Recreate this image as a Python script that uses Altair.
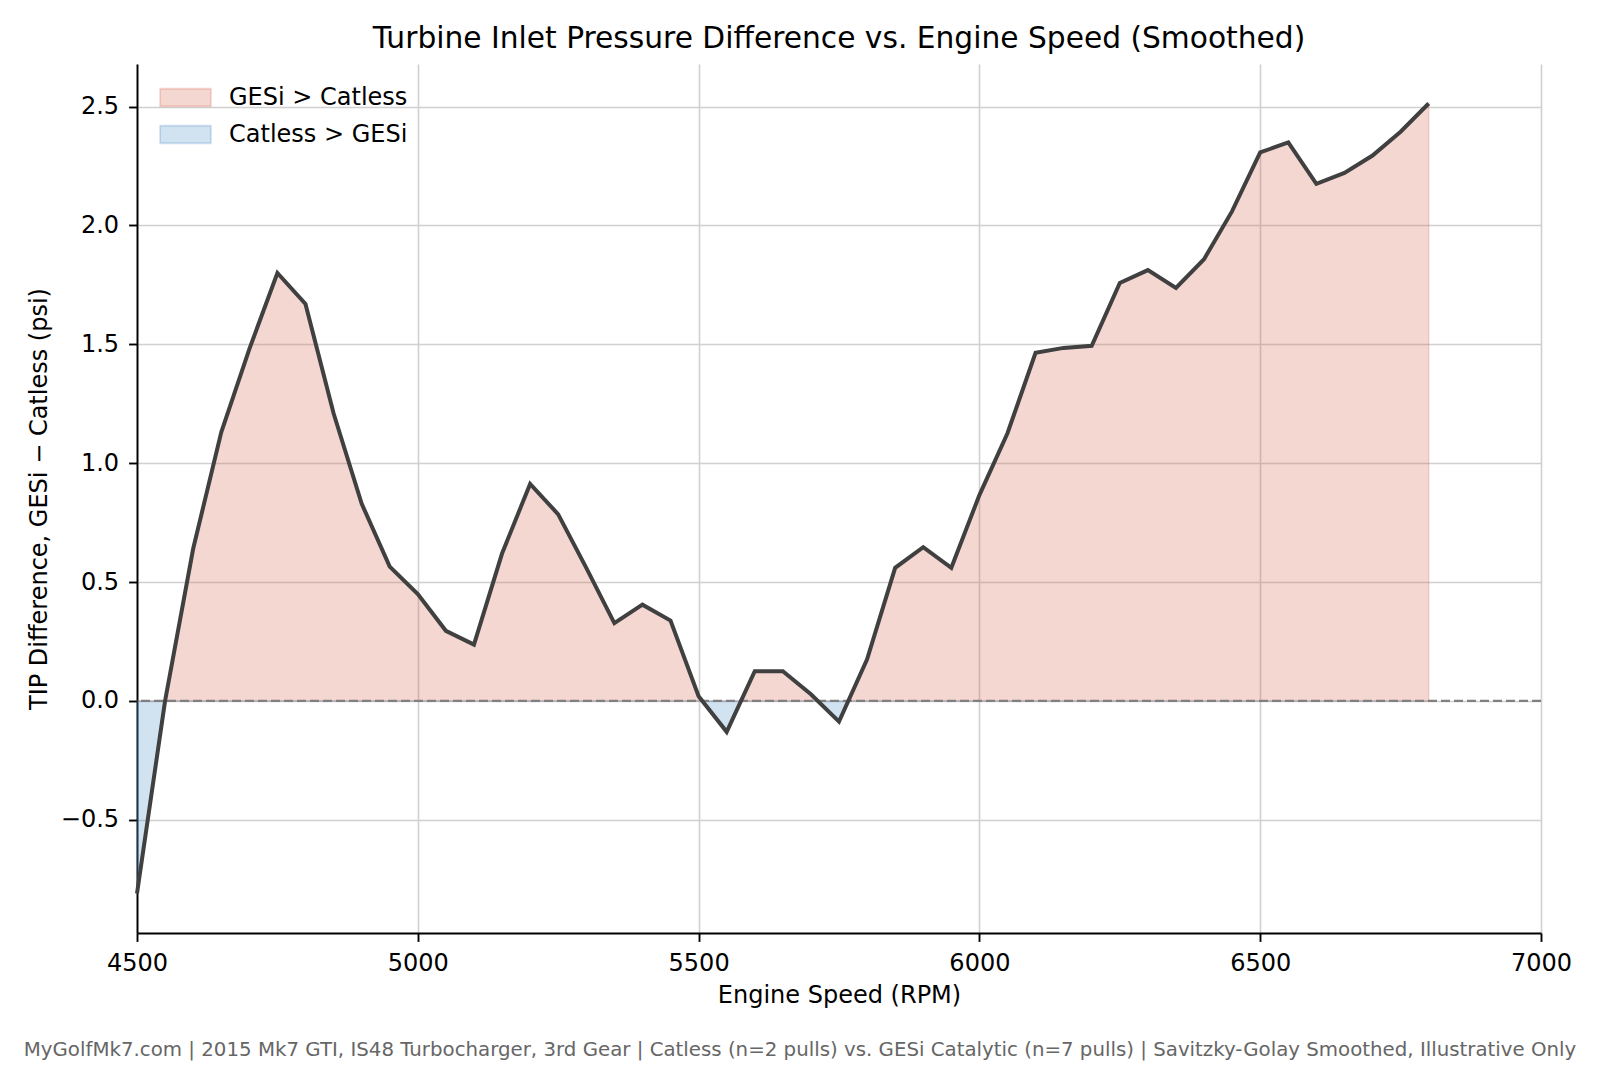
import altair as alt
import pandas as pd

# ---- data ----
rpm = [4500, 4550, 4600, 4650, 4700, 4750, 4800, 4850, 4900, 4950,
       5000, 5050, 5100, 5150, 5200, 5250, 5300, 5350, 5400, 5450,
       5500, 5550, 5600, 5650, 5700, 5750, 5800, 5850, 5900, 5950,
       6000, 6050, 6100, 6150, 6200, 6250, 6300, 6350, 6400, 6450,
       6500, 6550, 6600, 6650, 6700, 6750, 6800]
tip_diff = [-0.81, 0.00, 0.64, 1.13, 1.48, 1.80, 1.67, 1.21, 0.83, 0.565,
            0.45, 0.295, 0.237, 0.62, 0.913, 0.785, 0.56, 0.327, 0.405, 0.338,
            0.02, -0.13, 0.125, 0.125, 0.028, -0.087, 0.175, 0.56, 0.647, 0.56,
            0.866, 1.126, 1.464, 1.485, 1.494, 1.758, 1.812, 1.737, 1.858, 2.06,
            2.307, 2.349, 2.175, 2.221, 2.294, 2.394, 2.513]

series_names = ["GESi > Catless", "Catless > GESi"]
series_colors = ["rgba(214,96,77,0.25)", "rgba(70,140,200,0.25)"]
x_ticks = [4500, 5000, 5500, 6000, 6500, 7000]
y_ticks = [-0.5, 0.0, 0.5, 1.0, 1.5, 2.0, 2.5]

title_text = "Turbine Inlet Pressure Difference vs. Engine Speed (Smoothed)"
x_title = "Engine Speed (RPM)"
y_title = "TIP Difference, GESi \u2212 Catless (psi)"
footer_text = ("MyGolfMk7.com | 2015 Mk7 GTI, IS48 Turbocharger, 3rd Gear | "
               "Catless (n=2 pulls) vs. GESi Catalytic (n=7 pulls) | "
               "Savitzky-Golay Smoothed, Illustrative Only")

FONT = "DejaVu Sans"

# ---- tables ----
line_df = pd.DataFrame({"rpm": rpm, "val": tip_diff})

# fill polygons end exactly where the curve crosses zero
fx, fv = [], []
for i in range(len(rpm)):
    fx.append(rpm[i])
    fv.append(tip_diff[i])
    if i + 1 < len(rpm) and tip_diff[i] * tip_diff[i + 1] < 0:
        t = tip_diff[i] / (tip_diff[i] - tip_diff[i + 1])
        fx.append(rpm[i] + t * (rpm[i + 1] - rpm[i]))
        fv.append(0.0)
fill_df = pd.concat([
    pd.DataFrame({"rpm": fx, "val": [max(v, 0.0) for v in fv], "series": series_names[0]}),
    pd.DataFrame({"rpm": fx, "val": [min(v, 0.0) for v in fv], "series": series_names[1]}),
], ignore_index=True)

x_scale = alt.Scale(domain=[4500, 7000], nice=False, zero=False)
y_scale = alt.Scale(domain=[-0.976, 2.679], nice=False, zero=False)

x_axis = alt.Axis(values=x_ticks, format="d", title=x_title, labelFlush=False,
                  labelPadding=10, titlePadding=8, grid=True)
y_axis = alt.Axis(values=y_ticks, title=y_title, grid=True,
                  labelExpr="replace(format(datum.value, '.1f'), '-', '\u2212')",
                  labelPadding=10, titlePadding=9)

legend = alt.Legend(title=None, orient="none", legendX=30, legendY=15,
                    symbolType="M-1.45,-0.5H1.45V0.5H-1.45Z", symbolSize=1225,
                    labelFont=FONT, labelFontSize=24, labelColor="black", labelLimit=600,
                    labelOffset=25, rowPadding=6, padding=0, symbolStrokeWidth=1.8)

areas = alt.Chart(fill_df).mark_area(strokeWidth=1.5, interpolate="linear").encode(
    x=alt.X("rpm:Q", scale=x_scale, axis=x_axis),
    y=alt.Y("val:Q", scale=y_scale, axis=y_axis, stack=None),
    y2=alt.datum(0),
    color=alt.Color("series:N", scale=alt.Scale(domain=series_names, range=series_colors),
                    legend=legend),
    stroke=alt.Stroke("series:N", scale=alt.Scale(domain=series_names, range=series_colors),
                      legend=legend),
)

zero_rule = alt.Chart(pd.DataFrame({"z": [0.0]})).mark_rule(
    color="#808080", strokeWidth=2.2, strokeDash=[9, 4]
).encode(y=alt.Y("z:Q", scale=y_scale, axis=y_axis))

line = alt.Chart(line_df).mark_line(color="#404040", strokeWidth=4).encode(
    x=alt.X("rpm:Q", scale=x_scale, axis=x_axis),
    y=alt.Y("val:Q", scale=y_scale, axis=y_axis),
)

footer = alt.Chart(pd.DataFrame({"t": [footer_text]})).mark_text(
    align="center", baseline="alphabetic", font=FONT, fontSize=19.8, color="#666666"
).encode(text="t:N", x=alt.value(663), y=alt.value(992))

chart = alt.layer(areas, zero_rule, line, footer).properties(
    width=1404, height=869,
    title=alt.TitleParams(title_text),
    autosize=alt.AutoSizeParams(type="none"),
    padding={"left": 129, "top": 56, "right": 40, "bottom": 130},
).configure_view(stroke=None).configure_axis(
    domainColor="black", domainWidth=1.9, tickColor="black", tickWidth=1.9, tickSize=8.4,
    labelFont=FONT, labelFontSize=24, labelColor="black",
    titleFont=FONT, titleFontSize=24, titleFontWeight="normal", titleColor="black",
    gridColor="#d0d0d0", gridWidth=1.6,
).configure_title(
    font=FONT, fontSize=29.7, fontWeight="normal", color="black", anchor="middle",
    frame="group", offset=9, baseline="alphabetic",
)

chart.save("out.html", embed_options={"renderer": "svg", "actions": False})
